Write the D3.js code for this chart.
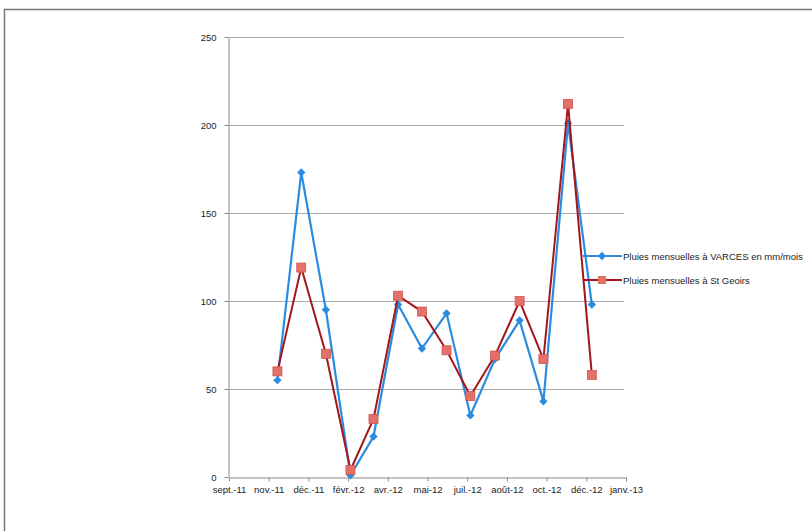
<!DOCTYPE html>
<html><head><meta charset="utf-8">
<script src="https://cdn.jsdelivr.net/npm/d3@7"></script>
<style>
body{margin:0;background:#fff;}
text{font-family:"Liberation Sans Narrow","Liberation Sans",Arial,sans-serif;}
</style></head>
<body><svg id="c" width="812" height="531"></svg>
<script>
const months = ["2011-11-15","2011-12-15","2012-01-15","2012-02-15","2012-03-15","2012-04-15","2012-05-15","2012-06-15","2012-07-15","2012-08-15","2012-09-15","2012-10-15","2012-11-15","2012-12-15"];
const varces = [55,173,95,1,23,98,73,93,35,67,89,43,201,98];
const stgeoirs = [60,119,70,4,33,103,94,72,46,69,100,67,212,58];
const seriesNames = ["Pluies mensuelles à VARCES en mm/mois","Pluies mensuelles à St Geoirs"];
const xTickLabels = ["sept.-11","nov.-11","déc.-11","févr.-12","avr.-12","mai-12","juil.-12","août-12","oct.-12","déc.-12","janv.-13"];
const yTicks = [0,50,100,150,200,250];

const svg = d3.select("#c");
const parse = d3.timeParse("%Y-%m-%d");
const start = parse("2011-09-15");
const day = 86400000;
const end = new Date(start.getTime() + 500*day);
const x = d3.scaleTime().domain([start,end]).range([229,626]);
const y = d3.scaleLinear().domain([0,250]).range([477,37]);

// outer frame
svg.append("path").attr("d","M4.5,540 L4.5,9.5 L820,9.5").attr("fill","none").attr("stroke","#777").attr("stroke-width",1.5);

// gridlines
svg.append("g").selectAll("line").data(yTicks.filter(d=>d>0)).join("line")
  .attr("x1",229).attr("x2",624).attr("y1",d=>y(d)+0.5).attr("y2",d=>y(d)+0.5)
  .attr("stroke","#aaa").attr("stroke-width",1);

// axes
const tickDates = xTickLabels.map((_,i)=>new Date(start.getTime()+i*50*day));
const xa = svg.append("g").attr("transform","translate(0,477.5)")
  .call(d3.axisBottom(x).tickValues(tickDates).tickSize(4).tickSizeOuter(0).tickFormat((d,i)=>xTickLabels[i]));
xa.select(".domain").attr("stroke","#888");
xa.selectAll(".tick line").attr("stroke","#888");
xa.selectAll("text").attr("font-size",9.5).attr("fill","#222").attr("dy","0.9em");

const ya = svg.append("g").attr("transform","translate(228.5,0)")
  .call(d3.axisLeft(y).tickValues(yTicks).tickSize(4).tickSizeOuter(0));
ya.select(".domain").attr("stroke","#888");
ya.selectAll(".tick line").attr("stroke","#888");
ya.selectAll("text").attr("font-size",9.5).attr("fill","#222").attr("x",-12);

const blue = "#2a8ce0", red = "#a3161b", redM = "#e4706a";
const line = d3.line().x((d,i)=>x(parse(months[i]))).y(d=>y(d));
const diamond = d3.symbol().type(d3.symbolDiamond2).size(44);

// Varces
svg.append("path").datum(varces).attr("d",line).attr("fill","none").attr("stroke",blue).attr("stroke-width",2.2);
svg.append("g").selectAll("path").data(varces).join("path")
  .attr("transform",(d,i)=>`translate(${x(parse(months[i]))},${y(d)})`)
  .attr("d",diamond).attr("fill",blue);
// St Geoirs
svg.append("path").datum(stgeoirs).attr("d",line).attr("fill","none").attr("stroke",red).attr("stroke-width",2);
svg.append("g").selectAll("rect").data(stgeoirs).join("rect")
  .attr("x",(d,i)=>x(parse(months[i]))-4.5).attr("y",d=>y(d)-4.5).attr("width",9).attr("height",9)
  .attr("fill",redM).attr("stroke","#d05550").attr("stroke-width",0.8);

// legend
const lg = svg.append("g");
const ly = [256,280];
lg.append("line").attr("x1",583).attr("x2",622).attr("y1",ly[0]).attr("y2",ly[0]).attr("stroke",blue).attr("stroke-width",2.2);
lg.append("path").attr("transform",`translate(602,${ly[0]})`).attr("d",diamond).attr("fill",blue);
lg.append("line").attr("x1",583).attr("x2",622).attr("y1",ly[1]).attr("y2",ly[1]).attr("stroke",red).attr("stroke-width",2);
lg.append("rect").attr("x",598).attr("y",ly[1]-4).attr("width",8).attr("height",8).attr("fill",redM);
lg.selectAll("text").data(seriesNames).join("text")
  .attr("x",623).attr("y",(d,i)=>ly[i]+3.5).attr("font-size",9.5).attr("fill","#222").text(d=>d);
</script></body></html>
